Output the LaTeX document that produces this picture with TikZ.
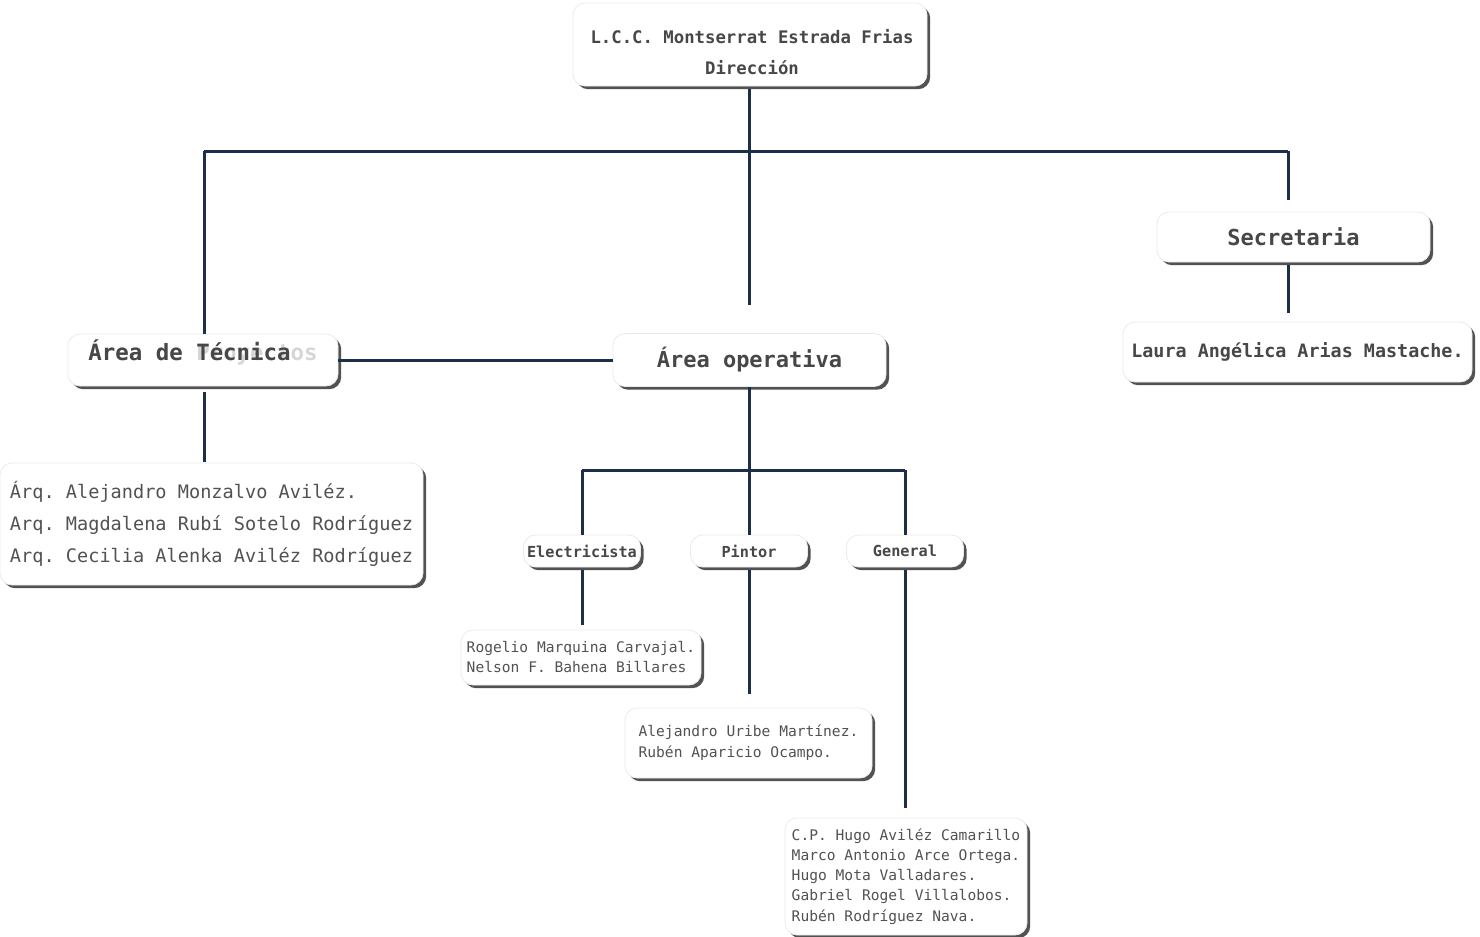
\documentclass[tikz,border=0pt]{standalone}
\usepackage{fontspec}
\usetikzlibrary{shadows}
\newfontfamily\organigrama{DejaVu Sans Mono}
\definecolor{azulrama}{RGB}{28,46,74}
\frenchspacing

\tikzset{
  caja/.style={draw=black!8, fill=white, rounded corners=6pt, inner sep=0pt,
    drop shadow={shadow xshift=1.6pt, shadow yshift=-1.6pt, fill=black!68, opacity=1}},
  rama/.style={draw=azulrama, line width=1.5pt},
  titulo/.style 2 args={text=black!72, inner sep=0pt, font=\organigrama\bfseries\fontsize{#1}{#2}\selectfont},
  nombres/.style 2 args={text=black!68, align=left, font=\organigrama\fontsize{#1}{#2}\selectfont}
}

\begin{document}
\begin{tikzpicture}[x=0.5pt,y=-0.5pt]
  \useasboundingbox (0,0) rectangle (1480,937);

  \node[caja, minimum width=177pt, minimum height=41.5pt] (direccion) at (750,44.5) {}; %Box direccion
  \node[titulo={8.65}{15.5}, align=center] (direcciontxt) at (752,52) {L.C.C. Montserrat Estrada Frias\\Dirección};

  \node[caja, titulo={11}{13}, minimum width=136.5pt, minimum height=25pt] (secretaria) at (1293.5,237) {Secretaria};
  \node[caja, titulo={9.2}{11}, minimum width=174.5pt, minimum height=30pt] (laura) at (1297.5,352) {Laura Angélica Arias Mastache.};

  \node[caja, minimum width=135pt, minimum height=26pt] (tecnica) at (203,360) {}; %Box area tecnica
  \node[titulo={11.2}{13}, text=black!16, anchor=base west] (tecfondo) at (88,360) {Área de Proyectos};
  \node[titulo={11.2}{13}, anchor=base west] (tecnicatxt) at (88,360) {Área de Técnica};
  \node[caja, titulo={11}{13}, minimum width=136.5pt, minimum height=26.5pt] (operativa) at (749.5,360) {Área operativa};

  \node[caja, nombres={9.3}{16}, minimum width=211.5pt, minimum height=61pt] (tecequipo) at (211.5,524)
    {Árq. Alejandro Monzalvo Aviléz.\\Arq. Magdalena Rubí Sotelo Rodríguez\\Arq. Cecilia Alenka Aviléz Rodríguez};

  \node[caja, titulo={7.6}{9}, minimum width=58.5pt, minimum height=16pt] (electricista) at (582,551) {Electricista};
  \node[caja, titulo={7.6}{9}, minimum width=58.5pt, minimum height=16pt] (pintor) at (749,551) {Pintor};
  \node[caja, titulo={7.6}{9}, minimum width=58.5pt, minimum height=16pt] (general) at (905,551) {General};

  \node[caja, nombres={7.3}{10}, minimum width=120pt, minimum height=27.5pt] (elecequipo) at (581,657.5)
    {Rogelio Marquina Carvajal.\\Nelson F. Bahena Billares};
  \node[caja, nombres={7.3}{10.5}, minimum width=123.5pt, minimum height=35pt] (pintorequipo) at (748.5,743)
    {Alejandro Uribe Martínez.\\Rubén Aparicio Ocampo.};
  \node[caja, nombres={7.3}{10.1}, minimum width=121pt, minimum height=58.5pt] (generalequipo) at (906,876.5)
    {C.P. Hugo Aviléz Camarillo\\Marco Antonio Arce Ortega.\\Hugo Mota Valladares.\\Gabriel Rogel Villalobos.\\Rubén Rodríguez Nava.};

  \coordinate (dirfin) at (749,305);
  \coordinate (ramaizq) at (204,151);
  \coordinate (ramader) at (1288,151);
  \coordinate (secarriba) at (1288,200);
  \coordinate (laurarriba) at (1288,313);
  \coordinate (tecfin) at (204,462);
  \coordinate (subrama) at (749,470);
  \coordinate (elecrama) at (582,470);
  \coordinate (genrama) at (905,470);
  \coordinate (elecfin) at (582,625);
  \coordinate (pintorfin) at (749,694);
  \coordinate (generalfin) at (905,808);

  \draw[rama, shorten <=1.5pt] (direccion.south -| dirfin) -- (dirfin); %Draw main stem
  \draw[rama] (ramaizq) -- (ramader); %Draw top branch
  \draw[rama] (ramaizq) -- (ramaizq |- tecnica.north); %Draw left branch
  \draw[rama] (ramader) -- (secarriba); %Draw right branch
  \draw[rama, shorten <=1.5pt] (secretaria.south -| laurarriba) -- (laurarriba);
  \draw[rama] (tecnica) -- (operativa); %Draw link between areas
  \draw[rama, shorten <=3pt] (tecnica.south -| tecfin) -- (tecfin);

  \draw[rama] (operativa.south -| subrama) -- (subrama); %Draw operative stem
  \draw[rama] (elecrama) -- (genrama); %Draw operative branch
  \draw[rama] (elecrama) -- (electricista);
  \draw[rama] (subrama) -- (pintor);
  \draw[rama] (genrama) -- (general);

  \draw[rama, shorten <=1.5pt] (electricista.south) -- (elecfin);
  \draw[rama, shorten <=1.5pt] (pintor.south) -- (pintorfin);
  \draw[rama, shorten <=1.5pt] (general.south) -- (generalfin);
\end{tikzpicture}
\end{document}
